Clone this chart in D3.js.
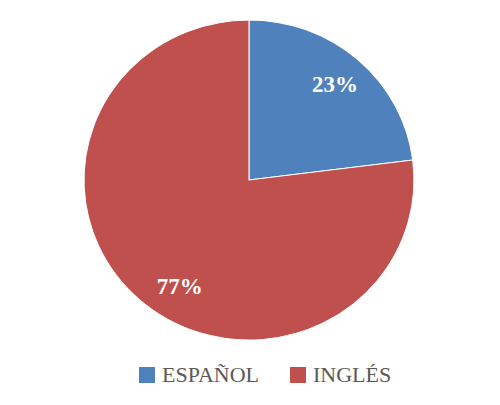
<!DOCTYPE html>
<html>
<head>
<meta charset="utf-8">
<script src="https://cdn.jsdelivr.net/npm/d3@7"></script>
<style>
  body { margin: 0; background: #fff; }
  svg { display: block; }
</style>
</head>
<body>
<div id="chart"></div>
<script>
const categories = ['ESPAÑOL', 'INGLÉS'];
const shares = [23, 77];
const sliceColors = ['#4F81BD', '#C0504D'];

const width = 500;
const height = 405;
const cx = 249;
const cy = 180;
const ry = 160;
const rx = 165;

const svg = d3.select('#chart').append('svg')
  .attr('width', width)
  .attr('height', height);

const pie = d3.pie().sort(null).value(d => d.value);
const arcs = pie(categories.map((c, i) => ({ name: c, value: shares[i] })));

const color = d3.scaleOrdinal().domain(categories).range(sliceColors);

// slight horizontal stretch, as in the picture
const pieG = svg.append('g')
  .attr('transform', `translate(${cx},${cy}) scale(${rx / ry},1)`);

const arc = d3.arc().innerRadius(0).outerRadius(ry);

pieG.selectAll('path')
  .data(arcs)
  .join('path')
  .attr('d', arc)
  .attr('fill', d => color(d.data.name))
  .attr('stroke', '#fff')
  .attr('stroke-width', 1);

// labels: position around the centroid, best-fit nudge for the big slice
const labelR = 126;
const angleNudge = [0, -0.16];
svg.append('g')
  .selectAll('text')
  .data(arcs)
  .join('text')
  .attr('x', (d, i) => cx + labelR * (rx / ry) * Math.sin((d.startAngle + d.endAngle) / 2 + angleNudge[i]))
  .attr('y', (d, i) => cy - labelR * Math.cos((d.startAngle + d.endAngle) / 2 + angleNudge[i]) + 7)
  .attr('text-anchor', 'middle')
  .attr('fill', '#fff')
  .attr('font-family', 'Liberation Serif, DejaVu Serif, serif')
  .attr('font-weight', 'bold')
  .attr('font-size', 23)
  .text(d => d.data.value + '%');

// legend
const legend = svg.append('g').attr('transform', 'translate(0,367)');
const legendX = d3.scaleOrdinal().domain(categories).range([139, 290]);

const item = legend.selectAll('g')
  .data(categories)
  .join('g')
  .attr('transform', d => `translate(${legendX(d)},0)`);

item.append('rect')
  .attr('width', 16)
  .attr('height', 16)
  .attr('fill', d => color(d));

item.append('text')
  .attr('x', 23)
  .attr('y', 15)
  .attr('fill', '#595959')
  .attr('font-family', 'Liberation Serif, DejaVu Serif, serif')
  .attr('font-size', 22)
  .text(d => d);
</script>
</body>
</html>
